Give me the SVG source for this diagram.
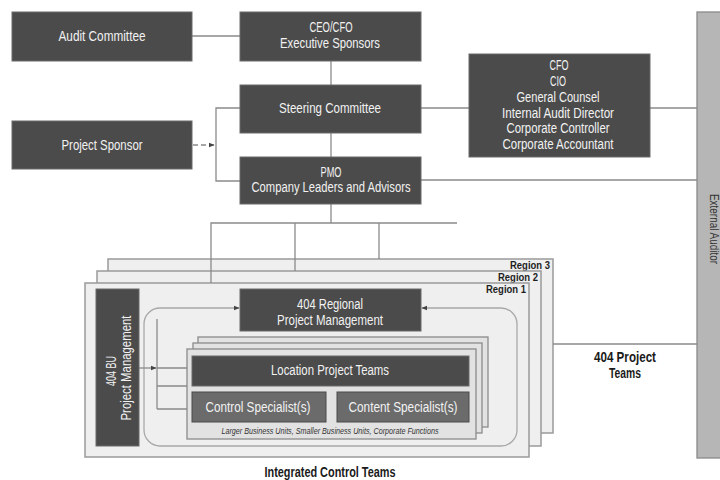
<svg xmlns="http://www.w3.org/2000/svg" width="720" height="480" viewBox="0 0 720 480">
  <style>
    text { font-family: "Liberation Sans Narrow", "Liberation Sans", Arial, sans-serif; }
    .box { fill: #4b4b4b; stroke: #6a6a6a; stroke-width: 1; }
    .mid { fill: #6b6b6b; stroke: #4a4a4a; stroke-width: 1; }
    .lbl { fill: #f2f2f2; font-size: 14px; text-anchor: middle; }
    .con { fill: none; stroke: #8a8a8a; stroke-width: 1.3; }
    .region { fill: #efefef; stroke: #9a9a9a; stroke-width: 1.5; }
    .stack { fill: #e2e2e2; stroke: #8a8a8a; stroke-width: 1.3; }
    .rlbl { fill: #1e1e1e; font-size: 11.5px; font-weight: bold; text-anchor: end; }
    .cap { fill: #1a1a1a; font-size: 14px; font-weight: bold; text-anchor: middle; }
  </style>
  <defs>
    <marker id="arr" viewBox="0 0 10 10" refX="9" refY="5" markerWidth="6" markerHeight="6" orient="auto-start-reverse" markerUnits="userSpaceOnUse">
      <path d="M0,1 L10,5 L0,9 Z" fill="#444"/>
    </marker>
  </defs>

  <!-- External auditor band on the right -->
  <g id="external-auditor">
    <rect x="697" y="12" width="30" height="446" fill="#b6b6b6" stroke="#8a8a8a" stroke-width="1.3"/>
    <text transform="translate(710,229) rotate(90)" fill="#333" font-size="12.5" text-anchor="middle" textLength="70" lengthAdjust="spacingAndGlyphs">External Auditor</text>
  </g>

  <!-- Regional frames, back to front -->
  <g id="region-3">
    <rect class="region" x="108" y="259" width="445" height="174"/>
    <text class="rlbl" x="550" y="269" textLength="40" lengthAdjust="spacingAndGlyphs">Region 3</text>
  </g>
  <g id="region-2">
    <rect class="region" x="97" y="271" width="444" height="175"/>
    <text class="rlbl" x="538" y="281" textLength="40" lengthAdjust="spacingAndGlyphs">Region 2</text>
  </g>
  <g id="region-1">
    <rect class="region" x="85" y="283" width="444" height="174"/>
    <text class="rlbl" x="526" y="293" textLength="40" lengthAdjust="spacingAndGlyphs">Region 1</text>
  </g>

  <!-- Connectors -->
  <g id="connectors">
    <path class="con" d="M192,36 H240"/>
    <path class="con" d="M331,61 V85"/>
    <path class="con" d="M331,133 V157"/>
    <path class="con" d="M240,108 H216 V181 H240"/>
    <path class="con" d="M193,145 H214" stroke-dasharray="5 3" marker-end="url(#arr)"/>
    <path class="con" d="M421,108 H469"/>
    <path class="con" d="M650,108 H697"/>
    <path class="con" d="M421,180 H697"/>
    <path class="con" d="M331,204 V223"/>
    <path class="con" d="M457,223 H211 V283"/>
    <path class="con" d="M295,223 V271"/>
    <path class="con" d="M379,223 V259"/>
    <path class="con" d="M553,344 H697"/>
    <path fill="none" stroke="#a8a8a8" stroke-width="1.3" d="M239,308 H160 A16,16 0 0 0 144,324 V430 A16,16 0 0 0 160,446 H501 A16,16 0 0 0 517,430 V324 A16,16 0 0 0 501,308 H422" marker-start="url(#arr)" marker-end="url(#arr)"/>
    <path class="con" d="M157,319 V409"/>
    <path class="con" d="M139,368 H156" marker-end="url(#arr)"/>
    <path class="con" d="M157,368 H187 M157,386 H187 M157,409 H187"/>
  </g>

  <!-- Top-level governance nodes -->
  <g id="audit-committee">
    <rect class="box" x="12" y="12" width="180" height="49"/>
    <text class="lbl" x="102" y="41" textLength="87" lengthAdjust="spacingAndGlyphs">Audit Committee</text>
  </g>
  <g id="ceo-cfo">
    <rect class="box" x="240" y="12" width="181" height="49"/>
    <text class="lbl" x="331" y="32" textLength="43" lengthAdjust="spacingAndGlyphs">CEO/CFO</text>
    <text class="lbl" x="330" y="48" textLength="100" lengthAdjust="spacingAndGlyphs">Executive Sponsors</text>
  </g>
  <g id="steering-committee">
    <rect class="box" x="240" y="85" width="181" height="48"/>
    <text class="lbl" x="330" y="113" textLength="102" lengthAdjust="spacingAndGlyphs">Steering Committee</text>
  </g>
  <g id="project-sponsor">
    <rect class="box" x="12" y="121" width="180" height="48"/>
    <text class="lbl" x="102" y="150" textLength="81" lengthAdjust="spacingAndGlyphs">Project Sponsor</text>
  </g>
  <g id="pmo">
    <rect class="box" x="240" y="157" width="181" height="47"/>
    <text class="lbl" x="331" y="177" textLength="21" lengthAdjust="spacingAndGlyphs">PMO</text>
    <text class="lbl" x="331" y="192" textLength="159" lengthAdjust="spacingAndGlyphs">Company Leaders and Advisors</text>
  </g>
  <g id="officers">
    <rect class="box" x="469" y="54" width="181" height="103"/>
    <text class="lbl" x="559" y="70" textLength="19" lengthAdjust="spacingAndGlyphs">CFO</text>
    <text class="lbl" x="558" y="86" textLength="16" lengthAdjust="spacingAndGlyphs">CIO</text>
    <text class="lbl" x="558" y="102" textLength="83" lengthAdjust="spacingAndGlyphs">General Counsel</text>
    <text class="lbl" x="558" y="118" textLength="112" lengthAdjust="spacingAndGlyphs">Internal Audit Director</text>
    <text class="lbl" x="558" y="133" textLength="103" lengthAdjust="spacingAndGlyphs">Corporate Controller</text>
    <text class="lbl" x="558" y="149" textLength="111" lengthAdjust="spacingAndGlyphs">Corporate Accountant</text>
  </g>

  <!-- Regional contents -->
  <g id="bu-project-management">
    <rect class="box" x="96" y="289" width="43" height="157"/>
    <text class="lbl" transform="translate(116,371) rotate(-90)" textLength="30" lengthAdjust="spacingAndGlyphs">404 BU</text>
    <text class="lbl" transform="translate(131,368) rotate(-90)" textLength="105" lengthAdjust="spacingAndGlyphs">Project Management</text>
  </g>
  <g id="regional-project-management">
    <rect class="box" x="240" y="289" width="181" height="42"/>
    <text class="lbl" x="330" y="309" textLength="66" lengthAdjust="spacingAndGlyphs">404 Regional</text>
    <text class="lbl" x="330" y="325" textLength="106" lengthAdjust="spacingAndGlyphs">Project Management</text>
  </g>
  <g id="location-teams">
    <rect class="stack" x="198" y="337" width="290" height="90"/>
    <rect class="stack" x="193" y="343" width="289" height="90"/>
    <rect class="stack" x="187" y="349" width="289" height="90"/>
    <rect class="box" x="192" y="356" width="277" height="30"/>
    <text class="lbl" x="330" y="375" textLength="118" lengthAdjust="spacingAndGlyphs">Location Project Teams</text>
    <rect class="mid" x="192" y="392" width="134" height="30"/>
    <text class="lbl" x="258" y="412" font-size="16" textLength="105" lengthAdjust="spacingAndGlyphs">Control Specialist(s)</text>
    <rect class="mid" x="337" y="392" width="132" height="30"/>
    <text class="lbl" x="403" y="412" font-size="16" textLength="109" lengthAdjust="spacingAndGlyphs">Content Specialist(s)</text>
    <text x="330" y="434" fill="#333" font-size="9.5" font-style="italic" text-anchor="middle" textLength="217" lengthAdjust="spacingAndGlyphs">Larger Business Units, Smaller Business Units, Corporate Functions</text>
  </g>

  <!-- Captions -->
  <g id="captions">
    <text class="cap" x="625" y="362" textLength="62" lengthAdjust="spacingAndGlyphs">404 Project</text>
    <text class="cap" x="625" y="378" textLength="32" lengthAdjust="spacingAndGlyphs">Teams</text>
    <text class="cap" x="330" y="477" textLength="131" lengthAdjust="spacingAndGlyphs">Integrated Control Teams</text>
  </g>
</svg>
